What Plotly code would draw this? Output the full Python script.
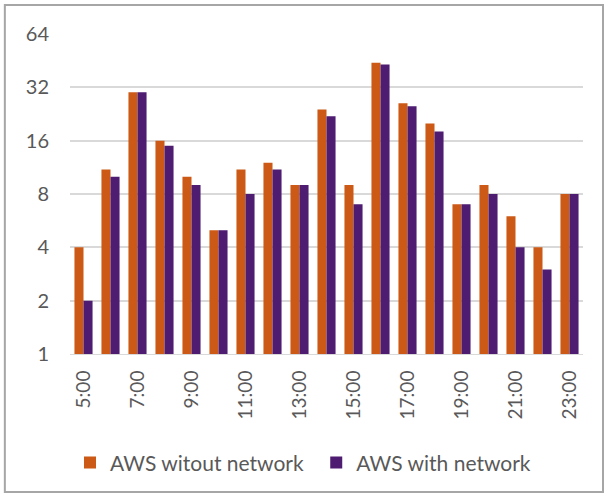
import plotly.graph_objects as go

hours = ["5:00", "6:00", "7:00", "8:00", "9:00", "10:00", "11:00", "12:00", "13:00", "14:00",
         "15:00", "16:00", "17:00", "18:00", "19:00", "20:00", "21:00", "22:00", "23:00"]
aws_without_network = [4, 11, 30, 16, 10, 5, 11, 12, 9, 24, 9, 44, 26, 20, 7, 9, 6, 4, 8]
aws_with_network = [2, 10, 30, 15, 9, 5, 8, 11, 9, 22, 7, 43, 25, 18, 7, 8, 4, 3, 8]
x_tick_labels = ["5:00", "7:00", "9:00", "11:00", "13:00", "15:00", "17:00", "19:00", "21:00", "23:00"]
y_tick_values = [1, 2, 4, 8, 16, 32, 64]

fig = go.Figure()
fig.add_trace(go.Bar(x=hours, y=aws_without_network, name="AWS witout network",
                     marker=dict(color="#CC5A16", line=dict(width=0)), legend="legend"))
fig.add_trace(go.Bar(x=hours, y=aws_with_network, name="AWS with network",
                     marker=dict(color="#4E1D72", line=dict(width=0)), legend="legend2"))

legend_common = dict(orientation="h", xanchor="left", y=-0.34, yanchor="middle",
                     font=dict(size=21, color="#595959"), itemwidth=30,
                     bgcolor="rgba(0,0,0,0)")

fig.update_layout(
    width=607, height=500,
    margin=dict(l=70, r=24, t=34, b=146),
    paper_bgcolor="white", plot_bgcolor="white",
    font=dict(family="Lato, Open Sans, sans-serif", color="#595959"),
    barmode="group", bargap=0.33, bargroupgap=0,
    showlegend=True,
    legend=dict(x=0.0, **legend_common),
    legend2=dict(x=0.48, **legend_common),
    xaxis=dict(type="category", tickmode="array", tickvals=x_tick_labels, ticktext=x_tick_labels,
               tickangle=-90, tickfont=dict(size=19, color="#595959"), showgrid=False,
               showline=True, linecolor="#D9D9D9", linewidth=1, ticks="", ticklen=0,
               ticklabelstandoff=8),
    yaxis=dict(type="log", range=[0, 1.80618], tickmode="array", tickvals=y_tick_values,
               ticktext=[str(v) for v in y_tick_values], tickfont=dict(size=20, color="#595959"),
               showgrid=True, gridcolor="#D9D9D9", gridwidth=2, zeroline=False, showline=False,
               ticks="", ticklabelstandoff=20),
    shapes=[dict(type="rect", xref="paper", yref="paper", x0=-0.127, x1=1.039, y0=-0.431, y1=1.091,
                 line=dict(color="#A6A6A6", width=2), fillcolor="rgba(0,0,0,0)", layer="below")],
)

fig.write_html("out.html", config={"displayModeBar": False},
               post_script="document.body.style.margin='0';")
